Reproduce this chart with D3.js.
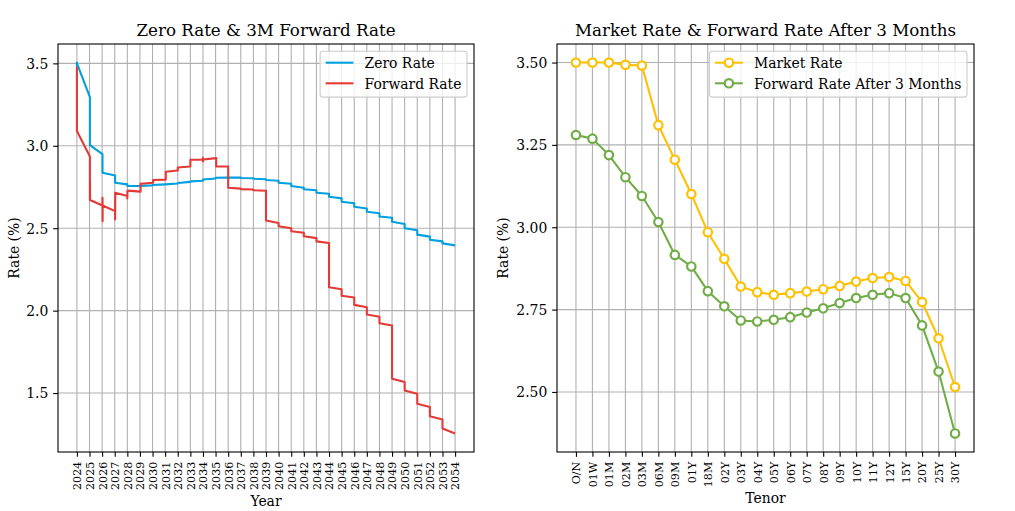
<!DOCTYPE html>
<html><head><meta charset="utf-8">
<script src="https://cdn.jsdelivr.net/npm/d3@7"></script>
<style>
html,body{margin:0;padding:0;background:#fff;}
svg{display:block;font-family:"DejaVu Serif",serif;}
</style></head>
<body><svg id="c" width="1015" height="511"></svg>
<script>
// ---------- DATA ----------
const yearTicks = d3.range(2024, 2055);
const zeroYears = [2024.00,2024.00,2024.02,2025.03,2025.03,2026.03,2026.03,2027.03,2027.03,2028.00,2028.00,2029.00,2030.00,2030.00,2031.00,2032.00,2032.00,2033.00,2033.00,2034.00,2034.00,2035.00,2035.00,2036.00,2037.00,2037.00,2038.00,2038.00,2039.00,2039.00,2040.00,2040.00,2041.00,2041.00,2042.00,2042.00,2043.00,2043.00,2044.00,2044.00,2045.00,2045.00,2046.00,2046.00,2047.00,2047.00,2048.00,2048.00,2049.00,2049.00,2050.00,2050.00,2051.00,2051.00,2052.00,2052.00,2053.00,2053.00,2054.00];
const zeroRates = [3.480,3.505,3.497,3.295,3.004,2.950,2.837,2.820,2.776,2.766,2.756,2.757,2.760,2.762,2.766,2.771,2.774,2.781,2.784,2.788,2.796,2.802,2.806,2.808,2.807,2.805,2.803,2.800,2.797,2.793,2.788,2.776,2.770,2.756,2.746,2.736,2.730,2.715,2.709,2.691,2.681,2.661,2.652,2.630,2.620,2.600,2.591,2.571,2.563,2.539,2.526,2.500,2.488,2.461,2.449,2.430,2.420,2.408,2.396];
const fwdYears = [2024.00,2024.00,2025.03,2025.03,2025.04,2025.04,2026.03,2026.03,2026.04,2026.04,2027.03,2027.03,2027.04,2028.00,2028.00,2028.01,2029.05,2029.05,2030.05,2030.05,2031.05,2031.05,2032.00,2032.00,2033.00,2033.00,2034.00,2034.00,2034.01,2034.01,2035.05,2035.05,2036.00,2036.00,2037.00,2037.00,2038.00,2038.00,2039.00,2039.00,2040.00,2040.00,2041.00,2041.00,2042.00,2042.00,2043.00,2043.00,2044.00,2044.00,2045.00,2045.00,2046.00,2046.00,2047.00,2047.00,2048.00,2048.00,2049.00,2049.00,2050.00,2050.00,2051.00,2051.00,2052.00,2052.00,2053.00,2053.00,2054.00];
const fwdRates = [3.480,3.090,2.935,2.671,2.787,2.671,2.638,2.685,2.543,2.638,2.604,2.553,2.715,2.695,2.680,2.728,2.722,2.770,2.776,2.793,2.795,2.843,2.850,2.868,2.874,2.915,2.917,2.927,2.905,2.917,2.925,2.874,2.874,2.746,2.740,2.737,2.735,2.730,2.727,2.547,2.532,2.512,2.500,2.482,2.473,2.451,2.440,2.420,2.410,2.142,2.130,2.090,2.080,2.035,2.020,1.977,1.963,1.923,1.910,1.587,1.567,1.516,1.496,1.435,1.415,1.360,1.340,1.285,1.255];

const tenors = ["O/N","01W","01M","02M","03M","06M","09M","01Y","18M","02Y","03Y","04Y","05Y","06Y","07Y","08Y","09Y","10Y","11Y","12Y","15Y","20Y","25Y","30Y"];
const marketRates = [3.500,3.500,3.500,3.493,3.491,3.310,3.205,3.101,2.985,2.904,2.820,2.803,2.795,2.800,2.805,2.812,2.822,2.835,2.846,2.849,2.837,2.773,2.663,2.515];
const fwd3mRates = [3.280,3.269,3.219,3.152,3.095,3.016,2.916,2.881,2.806,2.760,2.717,2.714,2.719,2.727,2.741,2.754,2.770,2.785,2.795,2.800,2.785,2.702,2.562,2.374];
const leftYTicks = [1.5,2.0,2.5,3.0,3.5];
const rightYTicks = [2.50,2.75,3.00,3.25,3.50];

// ---------- STYLE ----------
const C = {zero:"#00A0E0", fwd:"#E53935", market:"#FFC000", fwd3m:"#70AD47", grid:"#b0b0b0"};
const FS_TICK = 13.9, FS_XT = 11.1, FS_TITLE = 16.7, FS_LAB = 13.9;
const TL = 4.86;

const svg = d3.select("#c");
svg.append("rect").attr("width",1015).attr("height",511).attr("fill","#fff");

function withMargin(lo, hi){ const r = hi - lo; return [lo - 0.05*r, hi + 0.05*r]; }

function panel(box, x, y, xTickVals, xTickFmt, yTickVals, yFmt, title, xlabel, ylabelX){
  const g = svg.append("g");
  g.append("g").selectAll("line").data(xTickVals).join("line")
    .attr("x1",d=>x(d)).attr("x2",d=>x(d)).attr("y1",box.y0).attr("y2",box.y1)
    .attr("stroke",C.grid).attr("stroke-width",1.1);
  g.append("g").selectAll("line").data(yTickVals).join("line")
    .attr("y1",d=>y(d)).attr("y2",d=>y(d)).attr("x1",box.x0).attr("x2",box.x1)
    .attr("stroke",C.grid).attr("stroke-width",1.1);
  const plot = g.append("g");
  const xa = g.append("g").attr("transform",`translate(0,${box.y1})`)
    .call(d3.axisBottom(x).tickValues(xTickVals).tickFormat(xTickFmt).tickSizeOuter(0).tickSize(TL).tickPadding(TL));
  xa.select(".domain").remove();
  xa.selectAll(".tick line").attr("stroke","#000").attr("stroke-width",1.1);
  xa.selectAll(".tick text")
    .attr("font-family","DejaVu Serif").attr("font-size",FS_XT).attr("fill","#000")
    .attr("text-anchor","end").attr("x",0).attr("y",0).attr("dy","0.35em")
    .attr("transform",`translate(0,${TL+TL}) rotate(-90)`);
  const ya = g.append("g").attr("transform",`translate(${box.x0},0)`)
    .call(d3.axisLeft(y).tickValues(yTickVals).tickFormat(yFmt).tickSizeOuter(0).tickSize(TL).tickPadding(TL));
  ya.select(".domain").remove();
  ya.selectAll(".tick line").attr("stroke","#000").attr("stroke-width",1.1);
  ya.selectAll(".tick text").attr("font-family","DejaVu Serif").attr("font-size",FS_TICK).attr("fill","#000").attr("dy","0.35em");
  const cx = (box.x0+box.x1)/2;
  g.append("text").attr("x",cx).attr("y",35.7).attr("text-anchor","middle")
    .attr("font-size",FS_TITLE).attr("fill","#000").text(title);
  g.append("text").attr("x",cx).attr("y",xlabel.y).attr("text-anchor","middle")
    .attr("font-size",FS_LAB).attr("fill","#000").text(xlabel.t);
  g.append("text").attr("transform",`translate(${ylabelX},${(box.y0+box.y1)/2}) rotate(-90)`)
    .attr("text-anchor","middle").attr("font-size",FS_LAB).attr("fill","#000").text("Rate (%)");
  return {g, plot};
}

function spines(g, box){
  g.append("rect").attr("x",box.x0).attr("y",box.y0).attr("width",box.x1-box.x0).attr("height",box.y1-box.y0)
    .attr("fill","none").attr("stroke","#000").attr("stroke-width",1.1);
}

function legend(g, box, items){
  const fs = 13.9, pad = 5.56, handle = 27.8, tpad = 11.1, rowGap = 20.6;
  const lg = g.append("g");
  const bg = lg.append("rect");
  const top = box.y0 + 7.3;
  const texts = items.map((it,i)=> lg.append("text").attr("font-size",fs).attr("fill","#000").text(it.label));
  const tw = d3.max(texts, t => t.node().getComputedTextLength());
  const w = pad + handle + tpad + tw + pad;
  const h = 45.8;
  const right = box.x1 - 7.0, left = right - w;
  bg.attr("x",left).attr("y",top).attr("width",w).attr("height",h)
    .attr("rx",2.8).attr("fill","#fff").attr("fill-opacity",0.8).attr("stroke","#cccccc").attr("stroke-width",1.1);
  items.forEach((it,i)=>{
    const cy = top + 11.4 + i*rowGap;
    const x0 = left + pad, x1 = x0 + handle;
    lg.append("line").attr("x1",x0).attr("x2",x1).attr("y1",cy).attr("y2",cy)
      .attr("stroke",it.color).attr("stroke-width",2.08);
    if (it.marker) lg.append("circle").attr("cx",(x0+x1)/2).attr("cy",cy).attr("r",4.2)
      .attr("fill","#fff").attr("stroke",it.color).attr("stroke-width",2.2);
    texts[i].attr("x", x1 + tpad).attr("y", cy + 5.7);
  });
}

// ---------- LEFT PANEL ----------
const boxL = {x0:58, x1:474, y0:44, y1:452};
const xL = d3.scaleLinear().domain(withMargin(2024, 2054)).range([boxL.x0, boxL.x1]);
const allL = zeroRates.concat(fwdRates);
const yL = d3.scaleLinear().domain(withMargin(d3.min(allL), d3.max(allL))).range([boxL.y1, boxL.y0]);
const pL = panel(boxL, xL, yL, yearTicks, d=>String(d), leftYTicks, d3.format(".1f"),
  "Zero Rate & 3M Forward Rate", {t:"Year", y:506}, 18.5);
const lineL = d3.line().x(d=>xL(d[0])).y(d=>yL(d[1]));
pL.plot.append("path").datum(zeroYears.map((v,i)=>[v, zeroRates[i]]))
  .attr("d",lineL).attr("fill","none").attr("stroke",C.zero).attr("stroke-width",2.08).attr("stroke-linejoin","round");
pL.plot.append("path").datum(fwdYears.map((v,i)=>[v, fwdRates[i]]))
  .attr("d",lineL).attr("fill","none").attr("stroke",C.fwd).attr("stroke-width",2.08).attr("stroke-linejoin","round");
spines(pL.g, boxL);
legend(pL.g, boxL, [{label:"Zero Rate", color:C.zero},{label:"Forward Rate", color:C.fwd}]);

// ---------- RIGHT PANEL ----------
const boxR = {x0:557, x1:974, y0:44, y1:452};
const idx = d3.range(tenors.length);
const xR = d3.scaleLinear().domain(withMargin(0, tenors.length-1)).range([boxR.x0, boxR.x1]);
const allR = marketRates.concat(fwd3mRates);
const yR = d3.scaleLinear().domain(withMargin(d3.min(allR), d3.max(allR))).range([boxR.y1, boxR.y0]);
const pR = panel(boxR, xR, yR, idx, i=>tenors[i], rightYTicks, d3.format(".2f"),
  "Market Rate & Forward Rate After 3 Months", {t:"Tenor", y:503}, 508);
const lineR = d3.line().x((d,i)=>xR(i)).y(d=>yR(d));
[[marketRates, C.market],[fwd3mRates, C.fwd3m]].forEach(([vals,col])=>{
  pR.plot.append("path").datum(vals).attr("d",lineR).attr("fill","none")
    .attr("stroke",col).attr("stroke-width",2.08).attr("stroke-linejoin","round");
  pR.plot.append("g").selectAll("circle").data(vals).join("circle")
    .attr("cx",(d,i)=>xR(i)).attr("cy",d=>yR(d)).attr("r",4.2)
    .attr("fill","#fff").attr("stroke",col).attr("stroke-width",2.2);
});
spines(pR.g, boxR);
legend(pR.g, boxR, [{label:"Market Rate", color:C.market, marker:true},{label:"Forward Rate After 3 Months", color:C.fwd3m, marker:true}]);
</script>
</body></html>
